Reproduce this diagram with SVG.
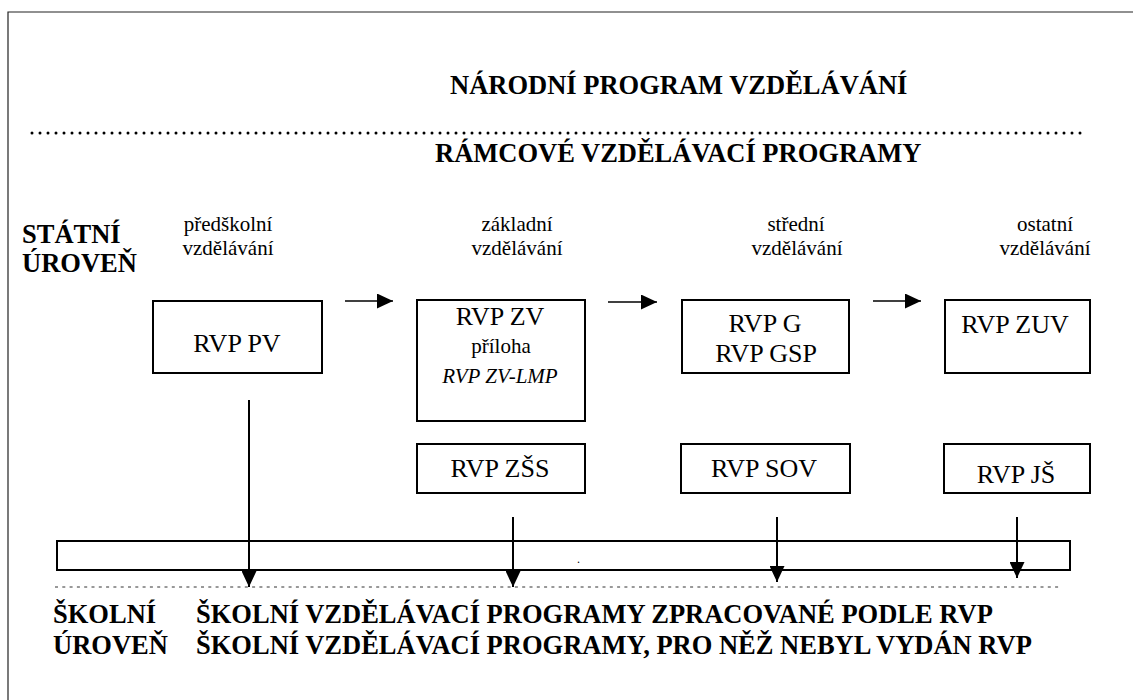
<svg xmlns="http://www.w3.org/2000/svg" width="1133" height="700" viewBox="0 0 1133 700">
  <style>
    .bold { font-family: "Liberation Serif", "Times New Roman", serif; font-weight: bold; font-size: 26.5px; fill: #000; }
    .box-text { font-family: "Liberation Serif", "Times New Roman", serif; font-size: 26px; fill: #000; text-anchor: middle; }
    .small { font-family: "Liberation Serif", "Times New Roman", serif; font-size: 21px; fill: #000; text-anchor: middle; }
    .box { fill: #fff; stroke: #000; stroke-width: 2; }
    .arrow-h { stroke: #000; stroke-width: 1.6; fill: none; }
    .arrow-v { stroke: #000; stroke-width: 2; fill: none; }
  </style>
  <defs>
    <marker id="head" markerUnits="userSpaceOnUse" markerWidth="16" markerHeight="15" refX="16" refY="7.5" orient="auto">
      <path d="M0,0 L16,7.5 L0,15 z" fill="#000"/>
    </marker>
  </defs>

  <rect width="1133" height="700" fill="#fff"/>

  <!-- page frame -->
  <path d="M1140,12 H8 V710" fill="none" stroke="#222" stroke-width="1.2"/>

  <!-- national level -->
  <text class="bold" x="450" y="94">NÁRODNÍ PROGRAM VZDĚLÁVÁNÍ</text>
  <line x1="32" y1="133" x2="1082" y2="133" stroke="#000" stroke-width="3" stroke-linecap="round" stroke-dasharray="0 8"/>
  <text class="bold" x="435" y="162">RÁMCOVÉ VZDĚLÁVACÍ PROGRAMY</text>

  <!-- state level label -->
  <g id="state-level">
    <text class="bold" x="22" y="243">STÁTNÍ</text>
    <text class="bold" x="22" y="272">ÚROVEŇ</text>
  </g>

  <!-- education stage labels -->
  <g id="stage-labels">
    <text class="small" x="228" y="231">předškolní</text>
    <text class="small" x="228" y="255">vzdělávání</text>
    <text class="small" x="517" y="231">základní</text>
    <text class="small" x="517" y="255">vzdělávání</text>
    <text class="small" x="796" y="231">střední</text>
    <text class="small" x="797" y="255">vzdělávání</text>
    <text class="small" x="1045" y="231">ostatní</text>
    <text class="small" x="1045" y="255">vzdělávání</text>
  </g>

  <!-- framework programme boxes -->
  <g id="rvp-pv">
    <rect class="box" x="153" y="301" width="169" height="72"/>
    <text class="box-text" x="237" y="352">RVP PV</text>
  </g>
  <g id="rvp-zv">
    <rect class="box" x="417" y="300" width="168" height="121"/>
    <text class="box-text" x="500" y="325">RVP ZV</text>
    <text class="small" x="501" y="353">příloha</text>
    <text class="small" x="500" y="383" font-style="italic">RVP ZV-LMP</text>
  </g>
  <g id="rvp-g">
    <rect class="box" x="682" y="300" width="167" height="73"/>
    <text class="box-text" x="765" y="332">RVP G</text>
    <text class="box-text" x="766" y="362">RVP GSP</text>
  </g>
  <g id="rvp-zuv">
    <rect class="box" x="945" y="300" width="145" height="73"/>
    <text class="box-text" x="1015" y="333">RVP ZUV</text>
  </g>
  <g id="rvp-zss">
    <rect class="box" x="417" y="444" width="168" height="49"/>
    <text class="box-text" x="500" y="477">RVP ZŠS</text>
  </g>
  <g id="rvp-sov">
    <rect class="box" x="681" y="444" width="169" height="49"/>
    <text class="box-text" x="764" y="477">RVP SOV</text>
  </g>
  <g id="rvp-js">
    <rect class="box" x="944" y="444" width="146" height="49"/>
    <text class="box-text" x="1016" y="483">RVP JŠ</text>
  </g>

  <!-- school programmes band -->
  <g id="school-band">
    <rect class="box" x="57" y="541" width="1013" height="29" fill="none"/>
    <text x="577" y="563" font-family="Liberation Serif, serif" font-size="12" fill="#000">.</text>
  </g>

  <!-- connectors -->
  <g id="connectors">
    <line class="arrow-h" x1="345" y1="301" x2="393" y2="301" marker-end="url(#head)"/>
    <line class="arrow-h" x1="608" y1="302" x2="657" y2="302" marker-end="url(#head)"/>
    <line class="arrow-h" x1="873" y1="301" x2="921" y2="301" marker-end="url(#head)"/>
    <line class="arrow-v" x1="249" y1="400" x2="249" y2="587" marker-end="url(#head)"/>
    <line class="arrow-v" x1="513" y1="517" x2="513" y2="587" marker-end="url(#head)"/>
    <line class="arrow-v" x1="777" y1="517" x2="777" y2="582" marker-end="url(#head)"/>
    <line class="arrow-v" x1="1017" y1="517" x2="1017" y2="578" marker-end="url(#head)"/>
  </g>

  <!-- school level -->
  <line x1="55" y1="587" x2="1059" y2="587" stroke="#333" stroke-width="1" stroke-dasharray="3 4.3"/>
  <g id="school-level">
    <text class="bold" x="53" y="623">ŠKOLNÍ</text>
    <text class="bold" x="53" y="654">ÚROVEŇ</text>
    <text class="bold" x="196" y="623">ŠKOLNÍ VZDĚLÁVACÍ PROGRAMY ZPRACOVANÉ PODLE RVP</text>
    <text class="bold" x="196" y="654">ŠKOLNÍ VZDĚLÁVACÍ PROGRAMY, PRO NĚŽ NEBYL VYDÁN RVP</text>
  </g>
</svg>
